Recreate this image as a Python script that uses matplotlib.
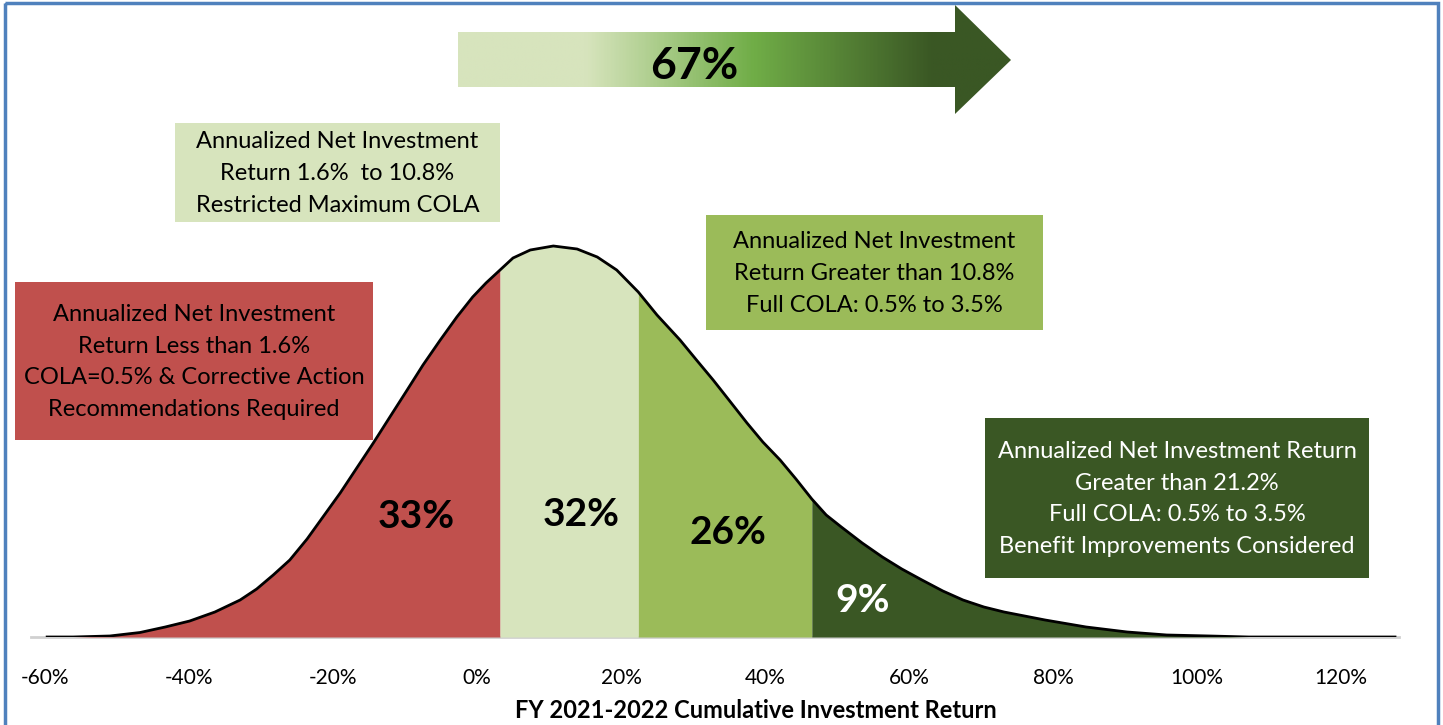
import numpy as np
import matplotlib
matplotlib.use("Agg")
import matplotlib.pyplot as plt
from matplotlib.patches import Rectangle, Polygon
from matplotlib.colors import LinearSegmentedColormap

plt.rcParams["font.family"] = ["Lato", "DejaVu Sans"]

# cumulative return (%) and curve height (relative density)
ret_pct = [-59.7, -56.1, -51.0, -46.8, -43.3, -39.9, -36.4, -32.9, -30.6, -28.3,
           -26.0, -23.6, -21.4, -19.0, -16.7, -14.4, -12.1, -9.7, -7.5, -5.1,
           -2.8, -0.6, 1.25, 3.2, 5.0, 7.4, 10.6, 13.9, 16.7, 19.4,
           22.4, 25.0, 28.2, 30.6, 32.8, 35.1, 37.5, 39.7, 42.1, 44.3,
           46.5, 48.5, 50.6, 53.5, 56.3, 59.0, 61.8, 64.7, 67.5, 70.4,
           73.2, 78.9, 84.6, 90.3, 95.8, 101.8, 107.2, 127.5]
density = [0.0, 0.0, 0.1, 0.45, 1.0, 1.6, 2.5, 3.7, 4.8, 6.2,
           7.7, 9.8, 12.0, 14.4, 16.9, 19.4, 22.0, 24.7, 27.2, 29.7,
           32.0, 34.0, 35.4, 36.7, 37.9, 38.7, 39.1, 38.8, 38.0, 36.7,
           34.5, 32.2, 29.7, 27.6, 25.7, 23.6, 21.4, 19.5, 17.7, 15.8,
           13.8, 12.2, 11.0, 9.4, 8.0, 6.8, 5.7, 4.6, 3.7, 3.0,
           2.5, 1.7, 1.0, 0.5, 0.2, 0.1, 0.0, 0.0]

cut_points = [3.2, 22.4, 46.5]
zone_colors = ["#C0504D", "#D7E4BD", "#9BBB59", "#3A5724"]
zone_pcts = ["33%", "32%", "26%", "9%"]
zone_label_pos = [(-8.5, 12.0), (14.5, 12.3), (34.8, 10.5), (53.5, 3.7)]
zone_label_colors = ["black", "black", "black", "white"]

tick_vals = [-60, -40, -20, 0, 20, 40, 60, 80, 100, 120]

boxes = [
    # (left, top, right, bottom) in pixels, face colour, text colour, text
    ((15, 282, 373, 440), "#C0504D", "black",
     "Annualized Net Investment\nReturn Less than 1.6%\nCOLA=0.5% & Corrective Action\nRecommendations Required"),
    ((175, 123, 500, 222), "#D7E4BD", "black",
     "Annualized Net Investment\nReturn 1.6%  to 10.8%\nRestricted Maximum COLA"),
    ((706, 215, 1043, 330), "#9BBB59", "black",
     "Annualized Net Investment\nReturn Greater than 10.8%\nFull COLA: 0.5% to 3.5%"),
    ((985, 418, 1369, 578), "#3A5724", "white",
     "Annualized Net Investment Return\nGreater than 21.2%\nFull COLA: 0.5% to 3.5%\nBenefit Improvements Considered"),
]

W, H = 1443, 725
fig = plt.figure(figsize=(W / 100, H / 100), dpi=100)

# main chart axes: 7.2 px per 1%, 0% at x=477 px, baseline at y=637 px
x0, x1 = -62, 128
ax = fig.add_axes([(477 + x0 * 7.2) / W, 88 / H, (x1 - x0) * 7.2 / W, 400 / H])
ax.set_xlim(x0, x1)
ax.set_ylim(0, 40)

x = np.array(ret_pct)
y = np.array(density)
idx = [0] + [ret_pct.index(c) for c in cut_points] + [len(ret_pct) - 1]
for i, col in enumerate(zone_colors):
    a, b = idx[i], idx[i + 1]
    ax.fill_between(x[a:b + 1], 0, y[a:b + 1], color=col, linewidth=0, zorder=2)
ax.plot(x, y, color="black", linewidth=2.0, zorder=3, solid_joinstyle="round")

for (tx, ty), lab, c in zip(zone_label_pos, zone_pcts, zone_label_colors):
    ax.text(tx, ty, lab, ha="center", va="center", fontsize=28, fontweight="bold",
            color=c, zorder=4)

ax.set_xticks(tick_vals)
ax.set_xticklabels([f"{v}%" for v in tick_vals], fontsize=15)
ax.tick_params(axis="x", length=0, pad=22)
ax.set_yticks([])
for s in ["top", "right", "left"]:
    ax.spines[s].set_visible(False)
ax.spines["bottom"].set_color("#D0D0D0")
ax.spines["bottom"].set_linewidth(2)
ax.spines["bottom"].set_zorder(1)
ax.set_xlabel("FY 2021-2022 Cumulative Investment Return", fontsize=17,
              fontweight="bold")
ax.xaxis.set_label_coords(0.53, -0.155)
ax.patch.set_alpha(0)

# overlay in pixel coordinates for boxes, arrow and border
ov = fig.add_axes([0, 0, 1, 1], zorder=5)
ov.set_xlim(0, W)
ov.set_ylim(H, 0)
ov.axis("off")
ov.patch.set_alpha(0)

for (l, t, r, b), fc, tc, txt in boxes:
    ov.add_patch(Rectangle((l, t), r - l, b - t, facecolor=fc, edgecolor="none"))
    ov.text((l + r) / 2, (t + b) / 2 + 1, txt, ha="center", va="center", fontsize=17,
            color=tc, linespacing=1.62)

# gradient arrow
arrow_pts = [(458, 32), (955, 32), (955, 5), (1011, 60), (955, 114), (955, 87), (458, 87)]
arrow = Polygon(arrow_pts, closed=True, facecolor="none", edgecolor="none")
ov.add_patch(arrow)
cmap = LinearSegmentedColormap.from_list(
    "arr", [(0, "#D7E4BD"), (0.23, "#D7E4BD"), (0.535, "#70AD47"), (0.86, "#3A5724"), (1, "#3A5724")])
grad = np.linspace(0, 1, 400).reshape(1, -1)
im = ov.imshow(grad, cmap=cmap, extent=(458, 1011, 114, 5), aspect="auto", zorder=1)
im.set_clip_path(arrow)
ov.text(694, 66, "67%", ha="center", va="center", fontsize=32, fontweight="bold",
        color="black", zorder=2)

# blue frame
ov.add_patch(Rectangle((4.5, 2.5), 1433, 730, facecolor="none", edgecolor="#4F81BD",
                       linewidth=2.5, zorder=6))

fig.savefig("out.png", dpi=100, facecolor="white")
